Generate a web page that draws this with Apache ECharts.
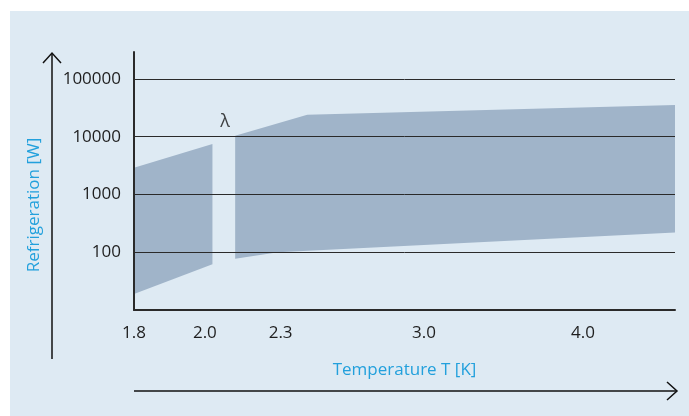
<!DOCTYPE html>
<html>
<head>
<meta charset="utf-8">
<script src="https://cdn.jsdelivr.net/npm/echarts@6/dist/echarts.min.js"></script>
<style>
  html, body { margin: 0; padding: 0; background: #ffffff; }
  #chart { position: absolute; left: 10px; top: 11px; width: 679px; height: 405px; }
</style>
</head>
<body>
<div id="chart"></div>
<script>
// temperature ticks [K] and where they sit on the (schematic, non-linear) axis, 0..100
const tickTemps = [1.8, 2.0, 2.3, 3.0, 4.0, 4.6];
const tickPos = [0, 13.1, 27.1, 53.6, 83.0, 100];
const tickLabels = ["1.8", "2.0", "2.3", "3.0", "4.0"];

// refrigeration bands [T (K), W]
const belowLambda = [[1.8, 2900], [2.03, 7500], [2.03, 62], [1.8, 19]];
const aboveLambda = [[2.12, 10400], [2.43, 24000], [4.6, 35500], [4.6, 220], [2.29, 100], [2.12, 77]];
const lambdaMark = [2.08, 18000];

const yMin = 10;
const yMax = 292000;

const fill = "#a0b4c9";
const blue = "#22a0dc";
const ink = "#2a2a2a";
const font = "'Open Sans', sans-serif";

function toPos(t) {
  for (let i = 1; i < tickTemps.length; i++) {
    if (t <= tickTemps[i]) {
      const f = (t - tickTemps[i - 1]) / (tickTemps[i] - tickTemps[i - 1]);
      return tickPos[i - 1] + f * (tickPos[i] - tickPos[i - 1]);
    }
  }
  return tickPos[tickPos.length - 1];
}

const bands = [belowLambda, aboveLambda];

const chart = echarts.init(document.getElementById("chart"));
chart.setOption({
  backgroundColor: "#deeaf3",
  animation: false,
  textStyle: { fontFamily: font },
  grid: { left: 124, right: 14, top: 41, bottom: 106 },
  xAxis: {
    type: "value",
    z: 5,
    min: 0,
    max: 100,
    name: "Temperature T [K]",
    nameLocation: "middle",
    nameGap: 52,
    nameTextStyle: { color: blue, fontSize: 17, fontFamily: font },
    axisLine: { lineStyle: { color: ink, width: 2 } },
    axisTick: { show: false },
    splitLine: { show: false },
    axisLabel: {
      customValues: tickTemps.slice(0, 5).map(toPos),
      margin: 15,
      color: "#1e1e1e",
      fontSize: 17,
      fontFamily: font,
      formatter: (value) => {
        const idx = tickPos.findIndex((p) => Math.abs(p - value) < 0.01);
        return idx >= 0 ? tickLabels[idx] : "";
      },
    },
  },
  yAxis: {
    type: "log",
    logBase: 10,
    z: 5,
    min: yMin,
    max: yMax,
    axisLine: { show: true, lineStyle: { color: ink, width: 2 } },
    axisTick: { show: false },
    splitLine: { show: true, showMinLine: false, showMaxLine: false, lineStyle: { color: ink, width: 1 } },
    axisLabel: {
      showMinLabel: false,
      showMaxLabel: false,
      margin: 13,
      color: "#1e1e1e",
      fontSize: 17,
      fontFamily: font,
      formatter: (value) => String(Math.round(value)),
    },
  },
  series: [
    {
      type: "custom",
      z: 1,
      data: bands.map((b) => [toPos(b[0][0]), b[0][1]]),
      renderItem: (params, api) => {
        const pts = bands[params.dataIndex].map((p) => api.coord([toPos(p[0]), p[1]]));
        return { type: "polygon", shape: { points: pts }, style: { fill: fill } };
      },
    },
    {
      type: "scatter",
      symbolSize: 0,
      data: [[toPos(lambdaMark[0]), lambdaMark[1]]],
      label: {
        show: true,
        position: "inside",
        formatter: "λ",
        color: "#111",
        fontSize: 18,
        fontFamily: font,
      },
    },
  ],
  graphic: [
    {
      type: "text",
      x: 24,
      y: 194,
      rotation: Math.PI / 2,
      style: {
        text: "Refrigeration [W]",
        fill: blue,
        font: "17px " + font,
        align: "center",
        verticalAlign: "middle",
      },
    },
    {
      type: "polyline",
      shape: { points: [[42, 348], [42, 42]] },
      style: { stroke: "#111", lineWidth: 1.5, fill: null },
    },
    {
      type: "polyline",
      shape: { points: [[33, 52], [42, 42], [51, 52]] },
      style: { stroke: "#111", lineWidth: 1.5, fill: null },
    },
    {
      type: "polyline",
      shape: { points: [[124, 380], [666, 380]] },
      style: { stroke: "#111", lineWidth: 1.5, fill: null },
    },
    {
      type: "polyline",
      shape: { points: [[657, 371], [667, 380], [657, 389]] },
      style: { stroke: "#111", lineWidth: 1.5, fill: null },
    },
  ],
});
</script>
</body>
</html>
